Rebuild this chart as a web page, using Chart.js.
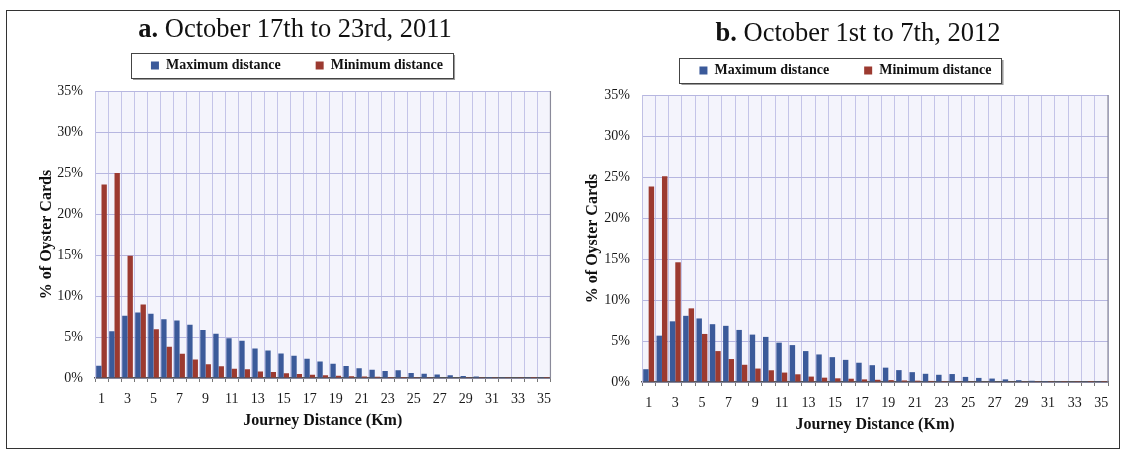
<!DOCTYPE html>
<html><head><meta charset="utf-8">
<script src="https://cdn.jsdelivr.net/npm/chart.js@4.4.1/dist/chart.umd.min.js"></script>
<style>
html,body{margin:0;padding:0;background:#fff;overflow:hidden;width:1125px;height:456px;}
#frame{position:absolute;left:6px;top:10px;width:1114px;height:439px;border:1.5px solid #333;box-sizing:border-box;}
canvas{position:absolute;top:0;}
#c1{left:0px}
#c2{left:560px}
</style></head><body>
<div id="frame"></div>
<canvas id="c1" width="560" height="456"></canvas>
<canvas id="c2" width="565" height="456"></canvas>
<script>
// ---- data ----
const distances = ['1','2','3','4','5','6','7','8','9','10','11','12','13','14','15','16','17','18','19','20','21','22','23','24','25','26','27','28','29','30','31','32','33','34','35'];
const xTickLabels = ['1','3','5','7','9','11','13','15','17','19','21','23','25','27','29','31','33','35'];
const yTickValues = [0,5,10,15,20,25,30,35];
const seriesNames = ['Maximum distance','Minimum distance'];

const max2011 = [1.5,5.7,7.6,8.0,7.85,7.15,7.0,6.5,5.85,5.4,4.85,4.55,3.6,3.35,3.0,2.7,2.35,2.0,1.75,1.45,1.2,1.0,0.85,0.95,0.62,0.52,0.42,0.33,0.25,0.18,0.13,0.09,0.06,0.04,0.03];
const min2011 = [23.6,25.0,14.9,8.95,5.95,3.8,2.97,2.25,1.68,1.42,1.12,1.08,0.78,0.72,0.57,0.48,0.4,0.33,0.28,0.22,0.18,0.15,0.13,0.11,0.09,0.08,0.06,0.05,0.04,0.03,0.03,0.02,0.02,0.01,0.01];
const max2012 = [1.56,5.65,7.4,8.07,7.75,7.05,6.85,6.35,5.78,5.5,4.8,4.5,3.77,3.36,3.03,2.7,2.35,2.05,1.75,1.45,1.2,1.0,0.88,0.97,0.62,0.5,0.42,0.32,0.22,0.15,0.11,0.08,0.06,0.04,0.03];
const min2012 = [23.85,25.08,14.6,8.98,5.86,3.77,2.8,2.1,1.64,1.43,1.15,0.94,0.66,0.53,0.45,0.4,0.32,0.27,0.23,0.19,0.16,0.13,0.11,0.1,0.08,0.07,0.06,0.05,0.04,0.03,0.03,0.02,0.02,0.01,0.01];

const titleA = ['a.', ' October 17th to 23rd, 2011'];
const titleB = ['b.', ' October 1st to 7th, 2012'];
const yAxisTitle = '% of Oyster Cards';
const xAxisTitle = 'Journey Distance (Km)';

// ---- styling ----
const FAMILY = "'Liberation Serif', 'Times New Roman', serif";
const BLUE = '#3b5a9a';
const RED = '#9c3a30';
Chart.defaults.font.family = FAMILY;
Chart.defaults.color = '#1a1a1a';

const panelTitle = {
  id: 'panelTitle',
  afterDraw(chart, args, o) {
    const ctx = chart.ctx;
    ctx.save();
    ctx.fillStyle = '#111';
    ctx.textBaseline = 'middle';
    ctx.textAlign = 'left';
    ctx.font = 'bold ' + o.size + 'px ' + FAMILY;
    const wb = ctx.measureText(o.text[0]).width;
    ctx.font = o.size + 'px ' + FAMILY;
    const wn = ctx.measureText(o.text[1]).width;
    const x0 = o.x - (wb + wn) / 2;
    ctx.font = 'bold ' + o.size + 'px ' + FAMILY;
    ctx.fillText(o.text[0], x0, o.y);
    ctx.font = o.size + 'px ' + FAMILY;
    ctx.fillText(o.text[1], x0 + wb, o.y);
    ctx.restore();
  }
};

const frameBits = {
  id: 'frameBits',
  afterInit(chart, args, o) {
    const lg = chart.legend;
    const orig = lg.fit;
    lg.fit = function () { orig.call(this); this.height = o.legendHeight; };
  },
  beforeDraw(chart, args, o) {
    const ctx = chart.ctx, a = chart.chartArea;
    ctx.save();
    ctx.fillStyle = '#f4f4fc';
    ctx.fillRect(a.left, a.top, a.right - a.left, a.bottom - a.top);
    // legend box
    const hb = chart.legend.legendHitBoxes;
    if (hb && hb.length) {
      const first = hb[0], last = hb[hb.length - 1];
      const cy = first.top + first.height / 2;
      const l = first.left - 20, r = last.left + last.width + 10;
      const t = cy - 12.5, h = 25;
      ctx.fillStyle = '#9a9a9a';
      ctx.fillRect(l + 2, t + 2, r - l, h);
      ctx.fillStyle = '#ffffff';
      ctx.fillRect(l, t, r - l, h);
      ctx.strokeStyle = '#444';
      ctx.lineWidth = 1;
      ctx.strokeRect(Math.round(l) + 0.5, Math.round(t) + 0.5, Math.round(r - l), h);
    }
    ctx.restore();
  },
  afterDatasetsDraw(chart) {
    const ctx = chart.ctx, a = chart.chartArea;
    ctx.save();
    ctx.strokeStyle = '#8a8a9a';
    ctx.lineWidth = 1.2;
    ctx.beginPath();
    ctx.moveTo(a.right, a.top);
    ctx.lineTo(a.right, a.bottom);
    ctx.stroke();
    ctx.restore();
  }
};

function makeChart(id, maxData, minData, s) {
  return new Chart(document.getElementById(id), {
    type: 'bar',
    data: {
      labels: distances,
      datasets: [
        { label: seriesNames[0], data: maxData, backgroundColor: BLUE, borderWidth: 0, categoryPercentage: 0.82, barPercentage: 1.0 },
        { label: seriesNames[1], data: minData, backgroundColor: RED, borderWidth: 0, categoryPercentage: 0.82, barPercentage: 1.0 }
      ]
    },
    plugins: [panelTitle, frameBits],
    options: {
      responsive: false,
      animation: false,
      devicePixelRatio: 1,
      layout: { padding: s.padding },
      plugins: {
        title: { display: false },
        tooltip: { enabled: false },
        legend: {
          display: true,
          position: 'top',
          labels: {
            boxWidth: 8, boxHeight: 8, padding: 35,
            color: '#111',
            font: { size: 14, weight: 'bold', family: FAMILY }
          }
        },
        panelTitle: { text: s.title, x: s.titleX, y: s.titleY, size: 26.5 },
        frameBits: { legendHeight: s.legendHeight }
      },
      scales: {
        x: {
          grid: { display: true, offset: true, color: '#c4c4e8', lineWidth: 1, drawTicks: true, tickLength: 4, tickColor: '#777' },
          border: { display: true, color: '#555', width: 1.5 },
          ticks: {
            autoSkip: false, maxRotation: 0, minRotation: 0, padding: 9,
            color: '#1a1a1a', font: { size: 14, family: FAMILY },
            callback: function (v, i) { const l = this.getLabelForValue(v); return xTickLabels.includes(l) ? l : ''; }
          },
          title: { display: true, text: xAxisTitle, color: '#111', font: { size: 16, weight: 'bold', family: FAMILY }, padding: { top: 0, bottom: 3 } },
          afterFit: sc => { sc.height = 55; }
        },
        y: {
          min: 0, max: 35,
          afterBuildTicks: sc => { sc.ticks = yTickValues.map(v => ({ value: v })); },
          grid: { color: '#b6b6e0', lineWidth: 1, drawTicks: false },
          border: { display: true, color: '#c0c0e4', width: 1 },
          ticks: { padding: 12, color: '#1a1a1a', font: { size: 14, family: FAMILY }, callback: v => v + '%' },
          title: { display: true, text: yAxisTitle, color: '#111', font: { size: 16, weight: 'bold', family: FAMILY }, padding: { top: s.yTitlePad, bottom: 0 } },
          afterFit: sc => { sc.width = s.yWidth; }
        }
      }
    }
  });
}

makeChart('c1', max2011, min2011, {
  padding: { left: 38, right: 4, top: 23.5, bottom: 23 },
  legendHeight: 67.5, yWidth: 57, yTitlePad: -0.6,
  title: titleA, titleX: 295, titleY: 30
});
makeChart('c2', max2012, min2012, {
  padding: { left: 23, right: 17, top: 28.5, bottom: 19 },
  legendHeight: 66.5, yWidth: 59, yTitlePad: 0,
  title: titleB, titleX: 298, titleY: 34
});
</script>
</body></html>
